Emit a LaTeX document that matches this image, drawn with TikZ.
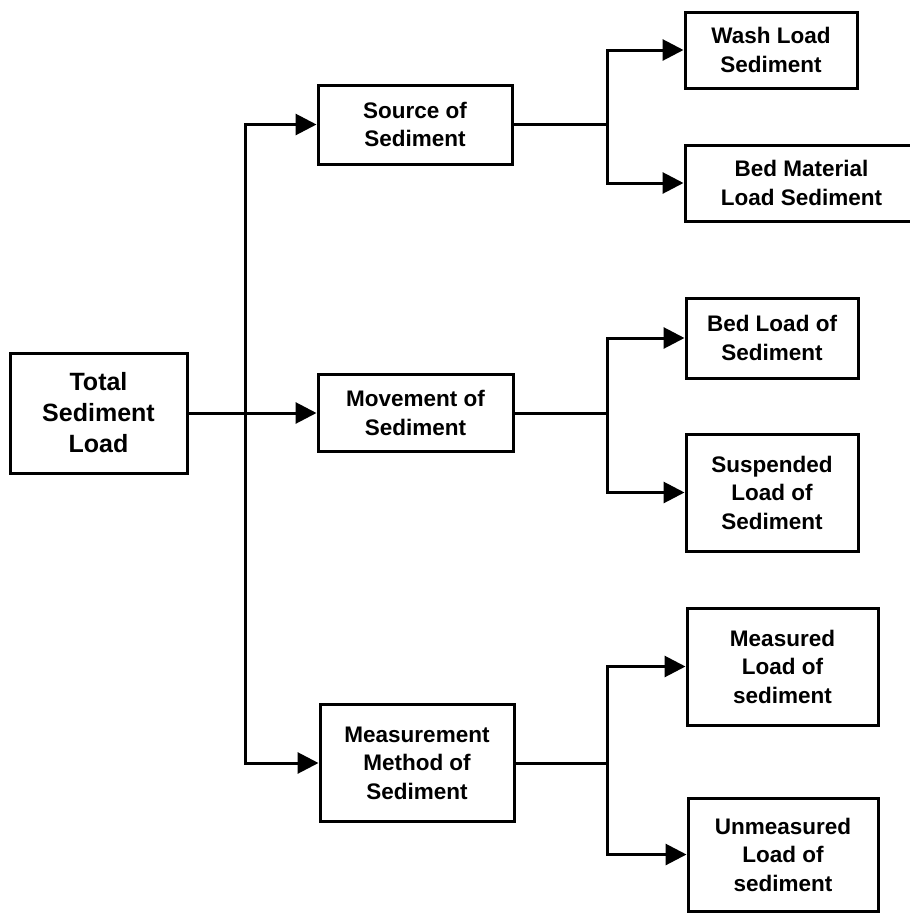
\documentclass[tikz,border=0pt]{standalone}
\usepackage{fontspec}
\setmainfont{Liberation Sans}
\usetikzlibrary{arrows.meta}
\begin{document}
\begin{tikzpicture}[x=1pt,y=-1pt,
  box/.style={draw,line width=3pt,inner sep=0pt,align=center,
    font=\fontsize{22.5}{28.5}\selectfont\bfseries},
  conn/.style={line width=3pt},
  arr/.style={line width=3pt,-{Triangle[length=21pt,width=21pt]}}]
\useasboundingbox (0,0) rectangle (910,913);
% nodes
\node[box,minimum width=177pt,minimum height=120pt,font=\fontsize{25}{31}\selectfont\bfseries] (total) at (98.5,413) {Total\\Sediment\\Load};
\node[box,minimum width=194pt,minimum height=79pt] (src) at (415,124.5) {Source of\\Sediment};
\node[box,minimum width=195pt,minimum height=77pt] (mov) at (415.5,413) {Movement of\\Sediment};
\node[box,minimum width=194pt,minimum height=117pt] (meas) at (417,763) {Measurement\\Method of\\Sediment};
\node[box,minimum width=172pt,minimum height=76pt] (wash) at (771,50) {Wash Load\\Sediment};
\node[box,minimum width=233pt,minimum height=76pt] (bedmat) at (801.5,183) {Bed Material\\Load Sediment};
\node[box,minimum width=172pt,minimum height=80pt] (bedload) at (772,338) {Bed Load of\\Sediment};
\node[box,minimum width=172pt,minimum height=117pt] (susp) at (772,492.5) {Suspended\\Load of\\Sediment};
\node[box,minimum width=191pt,minimum height=117pt] (measd) at (782.5,666.5) {Measured\\Load of\\sediment};
\node[box,minimum width=190pt,minimum height=113pt] (unmeas) at (783,854.5) {Unmeasured\\Load of\\sediment};
% junction columns
\coordinate (trunk) at (245,0);
\coordinate (br) at (607,0);
% trunk
\draw[arr] (total.east) -- (mov.west);
\draw[arr] (total.east -| trunk) |- (src.west);
\draw[arr] (total.east -| trunk) |- (meas.west);
% source branch
\draw[conn] (src.east) -- (src.east -| br);
\draw[arr] (src.east -| br) |- (wash.west);
\draw[arr] (src.east -| br) |- (bedmat.west);
% movement branch
\draw[conn] (mov.east) -- (mov.east -| br);
\draw[arr] (mov.east -| br) |- (bedload.west);
\draw[arr] (mov.east -| br) |- (susp.west);
% measurement branch
\draw[conn] (meas.east) -- (meas.east -| br);
\draw[arr] (meas.east -| br) |- (measd.west);
\draw[arr] (meas.east -| br) |- (unmeas.west);
\end{tikzpicture}
\end{document}
